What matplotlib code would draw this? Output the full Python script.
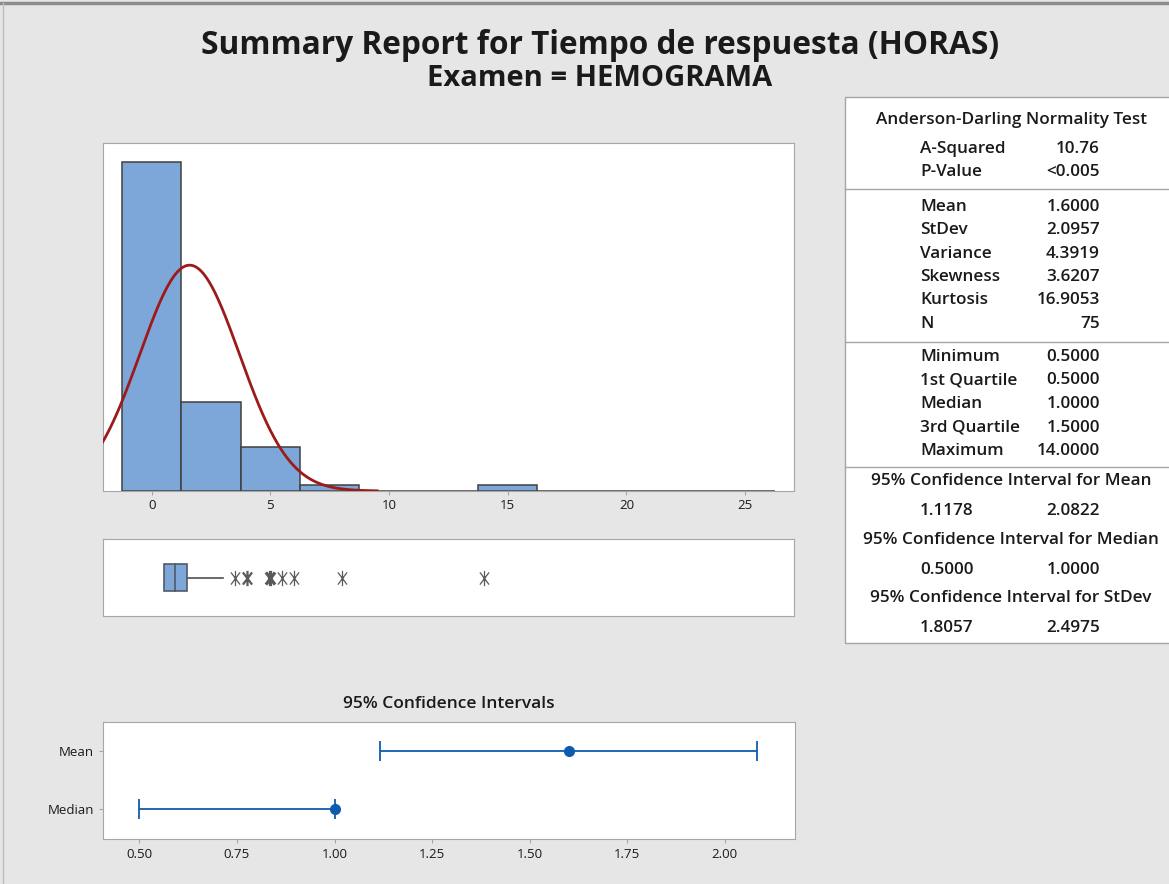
import numpy as np
import matplotlib.pyplot as plt
from matplotlib.path import Path
from collections import Counter

plt.rcParams['font.family'] = ['Open Sans', 'DejaVu Sans']

W, H = 1169, 884

# histogram, bin width 2.5
bin_centers = [0, 2.5, 5, 7.5, 10, 12.5, 15, 17.5, 20, 22.5, 25]
bin_counts = [52, 14, 7, 1, 0, 0, 1, 0, 0, 0, 0]
bin_width = 2.5

mean, stdev, n = 1.6000, 2.0957, 75

# boxplot
q1, median, q3 = 0.5, 1.0, 1.5
whisker_hi = 3.0
outliers = [3.5, 4, 4, 5, 5, 5, 5.5, 6, 8, 14]

# confidence intervals
ci_labels = ['Mean', 'Median']
ci_center = [1.6000, 1.0000]
ci_low = [1.1178, 0.5000]
ci_high = [2.0822, 1.0000]

# summary table
ad_rows = [('A-Squared', '10.76'), ('P-Value', '<0.005')]
moment_rows = [('Mean', '1.6000'), ('StDev', '2.0957'), ('Variance', '4.3919'),
               ('Skewness', '3.6207'), ('Kurtosis', '16.9053'), ('N', '75')]
quant_rows = [('Minimum', '0.5000'), ('1st Quartile', '0.5000'), ('Median', '1.0000'),
              ('3rd Quartile', '1.5000'), ('Maximum', '14.0000')]
ci_rows = [('95% Confidence Interval for Mean', '1.1178', '2.0822'),
           ('95% Confidence Interval for Median', '0.5000', '1.0000'),
           ('95% Confidence Interval for StDev', '1.8057', '2.4975')]

BG = '#e6e6e6'
FRAME = '#a6a6a6'
BAR = '#7da7d9'
EDGE = '#404040'
CURVE = '#9c1a1a'
CIBLUE = '#0f5cac'
TXT = '#1a1a1a'

fig = plt.figure(figsize=(W / 100, H / 100), dpi=100, facecolor=BG)


def px_axes(x0, y0, x1, y1):
    ax = fig.add_axes([x0 / W, 1 - y1 / H, (x1 - x0) / W, (y1 - y0) / H])
    for s in ax.spines.values():
        s.set_color(FRAME)
    return ax


# overlay in pixel coordinates for titles and table
ov = fig.add_axes([0, 0, 1, 1])
ov.set_xlim(0, W)
ov.set_ylim(H, 0)
ov.axis('off')
ov.plot([0, W], [3, 3], color='#8c8c8c', lw=2.5)
ov.plot([3, 3], [3, H], color='#bdbdbd', lw=1)

ov.text(600, 45, 'Summary Report for Tiempo de respuesta (HORAS)', ha='center', va='center',
        fontsize=22.8, fontweight='bold', color=TXT)
ov.text(600, 78, 'Examen = HEMOGRAMA', ha='center', va='center',
        fontsize=21, fontweight='bold', color=TXT)

# table box
ov.add_patch(plt.Rectangle((845, 97), 330, 546, facecolor='white', edgecolor=FRAME, lw=1))
for ysep in [189, 342, 467]:
    ov.plot([845, 1169], [ysep, ysep], color=FRAME, lw=1)

tfs = 12.3
tw = 'semibold'
lx, rx = 920, 1100
ov.text(1011, 120, 'Anderson-Darling Normality Test', ha='center', va='center', fontsize=tfs, fontweight=tw, color=TXT)
for i, (lab, val) in enumerate(ad_rows):
    y = 149 + i * 23.3
    ov.text(lx, y, lab, ha='left', va='center', fontsize=tfs, fontweight=tw, color=TXT)
    ov.text(rx, y, val, ha='right', va='center', fontsize=tfs, fontweight=tw, color=TXT)
for i, (lab, val) in enumerate(moment_rows):
    y = 207 + i * 23.3
    ov.text(lx, y, lab, ha='left', va='center', fontsize=tfs, fontweight=tw, color=TXT)
    ov.text(rx, y, val, ha='right', va='center', fontsize=tfs, fontweight=tw, color=TXT)
for i, (lab, val) in enumerate(quant_rows):
    y = 357 + i * 23.5
    ov.text(lx, y, lab, ha='left', va='center', fontsize=tfs, fontweight=tw, color=TXT)
    ov.text(rx, y, val, ha='right', va='center', fontsize=tfs, fontweight=tw, color=TXT)
for i, (lab, lo, hi) in enumerate(ci_rows):
    y = 481 + i * 58.5
    ov.text(1011, y, lab, ha='center', va='center', fontsize=tfs, fontweight=tw, color=TXT)
    ov.text(lx, y + 30, lo, ha='left', va='center', fontsize=tfs, fontweight=tw, color=TXT)
    ov.text(rx, y + 30, hi, ha='right', va='center', fontsize=tfs, fontweight=tw, color=TXT)

# histogram
ax1 = px_axes(103, 143, 794, 491)
ax1.bar(bin_centers, bin_counts, width=bin_width, color=BAR, edgecolor=EDGE, linewidth=1.1, zorder=2)
xs = np.linspace(-2.1, 9.5, 300)
pdf = n * bin_width * np.exp(-0.5 * ((xs - mean) / stdev) ** 2) / (stdev * np.sqrt(2 * np.pi))
ax1.plot(xs, pdf, color=CURVE, lw=2, zorder=3)
ax1.set_xlim(-2.05, 27.06)
ax1.set_ylim(0, 55)
ax1.set_yticks([])
ax1.set_xticks([0, 5, 10, 15, 20, 25])
ax1.tick_params(axis='x', length=3, color=FRAME, labelsize=9.5, labelcolor=TXT, pad=3)

# boxplot
star = Path([(0, -1), (0, 1), (-0.6, -0.8), (0.6, 0.8), (-0.6, 0.8), (0.6, -0.8)],
            [Path.MOVETO, Path.LINETO, Path.MOVETO, Path.LINETO, Path.MOVETO, Path.LINETO])
ax2 = px_axes(103, 539, 794, 616)
ax2.add_patch(plt.Rectangle((q1, 0.325), q3 - q1, 0.35, facecolor=BAR, edgecolor='#505a66', lw=1.2, zorder=2))
ax2.plot([median, median], [0.325, 0.675], color='#505a66', lw=1.2, zorder=3)
ax2.plot([q3, whisker_hi], [0.5, 0.5], color='#505050', lw=1.2, zorder=1)
for val, cnt in Counter(outliers).items():
    ax2.plot(val, 0.5, marker=star, ms=11, mew=0.9 + 0.7 * (cnt - 1), color='#5a5a5a', ls='none')
ax2.set_xlim(-2.05, 27.06)
ax2.set_ylim(0, 1)
ax2.set_xticks([])
ax2.set_yticks([])

# confidence intervals
ax3 = px_axes(103, 722, 795, 839)
ci_y = [2, 1]
for y, c, lo, hi in zip(ci_y, ci_center, ci_low, ci_high):
    ax3.errorbar(c, y, xerr=[[c - lo], [hi - c]], fmt='o', color=CIBLUE, ms=7,
                 capsize=7, elinewidth=1.3, capthick=1.3)
ax3.set_xlim(0.4067, 2.18)
ax3.set_ylim(0.49, 2.49)
ax3.set_yticks(ci_y)
ax3.set_yticklabels(ci_labels)
ax3.set_xticks([0.5, 0.75, 1.0, 1.25, 1.5, 1.75, 2.0])
ax3.set_xticklabels(['0.50', '0.75', '1.00', '1.25', '1.50', '1.75', '2.00'])
ax3.tick_params(length=3, color=FRAME, labelsize=9.5, labelcolor=TXT)
ax3.set_title('95% Confidence Intervals', fontsize=12.5, fontweight='semibold', color=TXT, pad=10)

fig.savefig('out.png', dpi=100, facecolor=BG)
